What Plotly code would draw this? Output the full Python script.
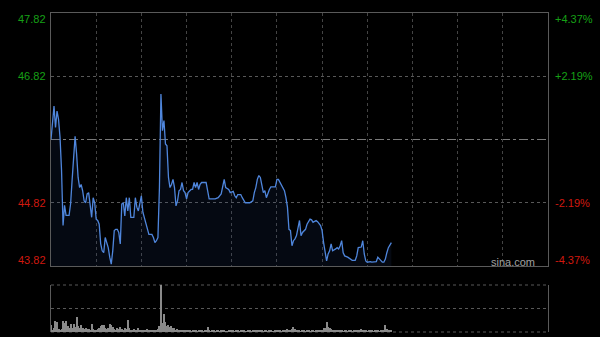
import plotly.graph_objects as go

# ---- data ----
prev_close = 45.82
price_ticks = [47.82, 46.82, 44.82, 43.82]
price_labels = ["47.82", "46.82", "44.82", "43.82"]
pct_labels = ["+4.37%", "+2.19%", "-2.19%", "-4.37%"]
session_minutes = 330
grid_minutes = [30, 60, 90, 120, 150, 180, 210, 240, 270, 300]

times = [0, 2, 3, 4, 5, 6, 7, 8, 9, 10,
         12, 13, 14, 15, 16, 17, 18, 19, 20, 21,
         22, 23, 24, 25, 26, 27, 28, 29, 30, 31,
         32, 33, 34, 35, 36, 37, 38, 39, 40, 41,
         42, 43, 44, 45, 46, 47, 48, 49, 50, 51,
         52, 53, 55, 56, 57, 58, 59, 60, 61, 62,
         63, 65, 67, 68, 69, 70, 71, 72, 73, 74,
         75, 76, 77, 78, 79, 80, 81, 82, 83, 84,
         85, 86, 87, 88, 89, 90, 91, 93, 94, 95,
         96, 97, 98, 99, 100, 103, 104, 105, 109, 111,
         113, 114, 115, 116, 118, 119, 121, 122, 123, 124,
         126, 127, 129, 132, 134, 135, 136, 137, 138, 139,
         140, 141, 142, 143, 145, 146, 149, 150, 151, 152,
         153, 155, 156, 157, 158, 159, 160, 161, 162, 163,
         165, 166, 167, 169, 170, 172, 173, 174, 176, 177,
         179, 180, 181, 182, 183, 184, 185, 186, 187, 189,
         190, 191, 192, 193, 194, 195, 197, 200, 202, 203,
         204, 206, 207, 208, 209, 210, 212, 213, 215, 216,
         217, 218, 220, 221, 222, 223, 224, 226]

prices = [45.82, 46.35, 46.01, 46.27, 46.14, 45.85, 45.33, 44.46, 44.78, 44.62,
          44.62, 44.80, 45.17, 45.61, 45.87, 45.59, 45.22, 45.06, 45.11, 45.01,
          44.85, 44.82, 44.96, 44.98, 44.82, 44.59, 44.90, 44.82, 44.56, 44.54,
          44.48, 44.17, 44.06, 44.03, 44.27, 44.19, 44.11, 43.96, 43.85, 44.06,
          44.38, 44.40, 44.40, 44.35, 44.17, 44.80, 44.82, 44.61, 44.90, 44.69,
          44.90, 44.59, 44.59, 44.90, 44.75, 44.69, 44.85, 44.93, 44.67, 44.59,
          44.48, 44.32, 44.32, 44.27, 44.19, 44.22, 44.27, 45.06, 46.54, 45.96,
          46.12, 45.75, 45.72, 45.22, 45.06, 45.11, 45.19, 45.06, 44.77, 44.85,
          45.01, 45.03, 45.14, 45.01, 44.98, 44.88, 44.98, 45.03, 45.03, 45.14,
          45.06, 45.14, 45.03, 45.11, 45.14, 45.14, 45.01, 44.88, 44.88, 44.90,
          44.96, 45.11, 45.19, 45.06, 45.03, 44.98, 45.00, 44.93, 44.90, 44.95,
          44.95, 44.90, 44.82, 44.82, 44.85, 44.98, 45.06, 45.19, 45.25, 45.22,
          45.09, 44.98, 45.01, 44.90, 45.03, 45.07, 45.07, 45.19, 45.19, 45.14,
          45.11, 45.01, 44.90, 44.75, 44.40, 44.38, 44.14, 44.22, 44.25, 44.30,
          44.54, 44.30, 44.35, 44.40, 44.48, 44.56, 44.55, 44.51, 44.54, 44.52,
          44.46, 44.38, 44.19, 44.03, 43.90, 44.01, 44.06, 44.17, 44.06, 44.09,
          44.11, 44.09, 44.14, 44.22, 44.03, 43.98, 43.96, 43.91, 43.91, 43.98,
          44.11, 44.12, 44.22, 44.01, 43.90, 43.88, 43.89, 43.88, 43.88, 43.89,
          43.96, 43.93, 43.88, 43.88, 43.93, 44.03, 44.11, 44.19]

volumes = [15, 5, 8, 24, 22, 6, 4, 7, 24, 19,
           24, 12, 8, 17, 9, 17, 10, 32, 12, 8,
           15, 8, 6, 9, 7, 6, 5, 17, 6, 5,
           4, 6, 8, 12, 15, 15, 8, 6, 9, 18,
           15, 10, 6, 5, 8, 6, 10, 6, 5, 8,
           6, 26, 8, 5, 4, 6, 5, 3, 8, 4,
           3, 5, 4, 3, 6, 4, 3, 5, 4, 3,
           5, 6, 12, 100, 20, 39, 22, 12, 14, 10,
           12, 8, 9, 5, 6, 4, 5, 3, 4, 3,
           3, 4, 3, 2, 4, 3, 3, 2, 3, 4,
           3, 2, 3, 4, 10, 3, 2, 3, 4, 2,
           3, 3, 2, 4, 3, 3, 2, 2, 3, 3,
           3, 4, 2, 3, 3, 2, 3, 4, 3, 2,
           2, 3, 3, 2, 4, 3, 3, 5, 4, 3,
           3, 2, 3, 3, 2, 3, 3, 2, 2, 3,
           4, 3, 3, 2, 3, 4, 5, 6, 5, 4,
           7, 10, 6, 4, 3, 3, 2, 3, 3, 2,
           3, 3, 2, 3, 3, 2, 3, 3, 4, 3,
           5, 9, 8, 21, 10, 8, 6, 4, 3, 5,
           3, 3, 4, 3, 2, 3, 3, 2, 3, 3,
           2, 3, 4, 3, 5, 3, 6, 4, 3, 3,
           2, 3, 3, 4, 2, 3, 4, 3, 2, 3,
           3, 4, 15, 6, 3, 4, 5]
volume_minutes = list(range(len(volumes)))

# ---- figure ----
W, H = 600, 337
xdom = [51 / W, 548 / W]
FONT = "Liberation Sans, Arial, sans-serif"
GREEN = "#16a016"
RED = "#d0190f"
BORDER = "#5a5a5a"
GRID = "#444444"
HGRID = "#585858"

fig = go.Figure()
fig.add_trace(go.Scatter(
    x=times, y=prices, mode="lines",
    line=dict(color="#4f86dc", width=1.3),
    fill="tozeroy", fillcolor="rgba(40,70,140,0.13)",
    xaxis="x", yaxis="y", hoverinfo="skip", showlegend=False))
fig.add_trace(go.Bar(
    x=volume_minutes, y=volumes, marker_color="#8a8a8a",
    marker_line_width=0, width=0.7,
    xaxis="x2", yaxis="y2", hoverinfo="skip", showlegend=False))

fig.update_layout(
    width=W, height=H,
    margin=dict(l=0, r=0, t=0, b=0),
    paper_bgcolor="#000000", plot_bgcolor="#000000",
    bargap=0,
    xaxis=dict(domain=xdom, range=[0, session_minutes], anchor="y",
               tickvals=grid_minutes, showticklabels=False, ticks="",
               showgrid=True, gridcolor=GRID, griddash="dot", gridwidth=1,
               showline=True, mirror=True, linecolor=BORDER, linewidth=1,
               zeroline=False, fixedrange=True),
    yaxis=dict(domain=[1 - 266 / H, 1 - 13 / H], range=[price_ticks[-1], price_ticks[0]],
               anchor="x", tickvals=[price_ticks[1], price_ticks[2]],
               showticklabels=False, ticks="",
               showgrid=True, gridcolor=HGRID, griddash="dot", gridwidth=1,
               showline=True, mirror=True, linecolor=BORDER, linewidth=1,
               zeroline=False, fixedrange=True),
    xaxis2=dict(domain=xdom, range=[0, session_minutes], anchor="y2",
                showticklabels=False, ticks="", showgrid=False,
                showline=False, zeroline=False, fixedrange=True),
    yaxis2=dict(domain=[1 - 332 / H, 1 - 285 / H], range=[0, max(volumes)],
                anchor="x2", tickvals=[max(volumes) / 2],
                showticklabels=False, ticks="",
                showgrid=True, gridcolor=HGRID, griddash="dot", gridwidth=1,
                showline=True, mirror=True, linecolor=BORDER, linewidth=1,
                zeroline=False, fixedrange=True),
)

# volume panel top / bottom dotted borders
for yy in (0, 1):
    fig.add_shape(type="line", xref="x2 domain", x0=0, x1=1,
                  yref="y2 domain", y0=yy, y1=yy,
                  line=dict(color=HGRID, width=1, dash="dot"), layer="below")

# previous close reference line
fig.add_shape(type="line", xref="x domain", x0=0, x1=1, yref="y",
              y0=prev_close, y1=prev_close,
              line=dict(color="#7a7a7a", width=1, dash="dashdot"), layer="below")

# axis labels
shifts = [-6, 0, 0, 6]
for val, lab, pct, sh in zip(price_ticks, price_labels, pct_labels, shifts):
    col = GREEN if val > prev_close else RED
    fig.add_annotation(x=48 / W, xref="paper", xanchor="right",
                       y=val, yref="y", yanchor="middle", yshift=sh,
                       text=lab, showarrow=False,
                       font=dict(family=FONT, size=11, color=col))
    fig.add_annotation(x=553 / W, xref="paper", xanchor="left",
                       y=val, yref="y", yanchor="middle", yshift=sh,
                       text=pct, showarrow=False,
                       font=dict(family=FONT, size=11, color=col))

fig.add_annotation(x=537 / W, xref="paper", xanchor="right",
                   y=1 - 262 / H, yref="paper", yanchor="middle",
                   text="sina.com", showarrow=False,
                   font=dict(family=FONT, size=11, color="#a0a0a0"))

fig.write_html("out.html")
